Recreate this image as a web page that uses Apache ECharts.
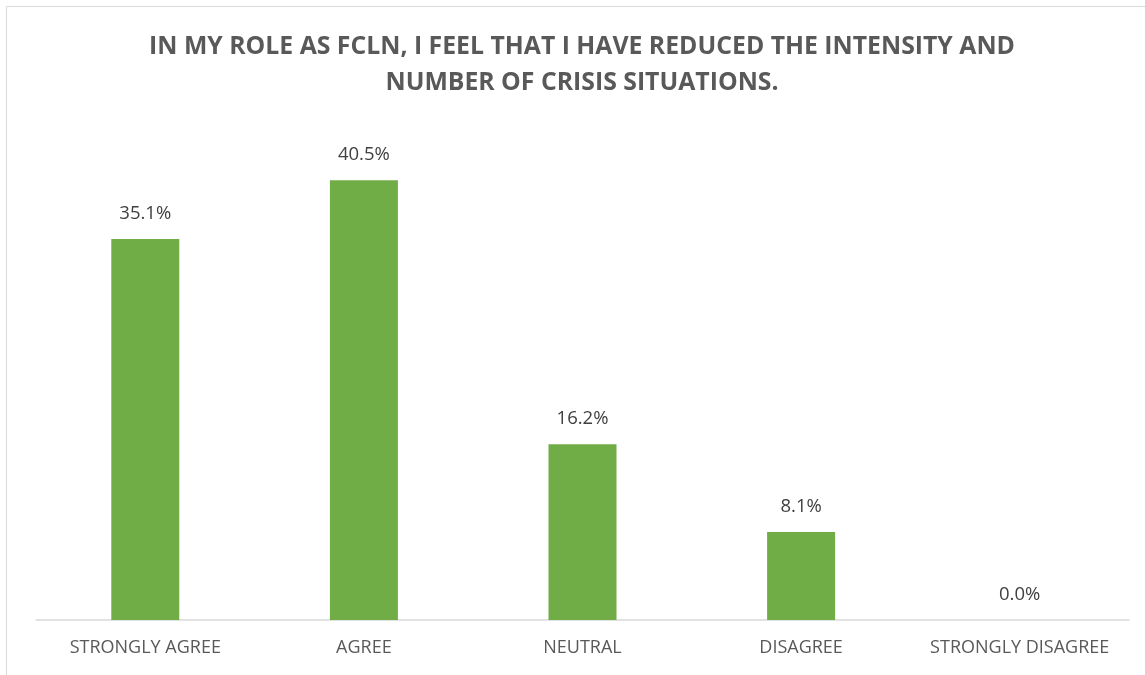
<!DOCTYPE html>
<html>
<head>
<meta charset="utf-8">
<script src="https://cdn.jsdelivr.net/npm/echarts@6/dist/echarts.min.js"></script>
<style>
  html, body { margin: 0; padding: 0; background: #fff; }
  #chart { width: 1145px; height: 675px; }
</style>
</head>
<body>
<div id="chart"></div>
<script>
// Survey responses: share of respondents per answer (%)
const categories = ['STRONGLY AGREE', 'AGREE', 'NEUTRAL', 'DISAGREE', 'STRONGLY DISAGREE'];
const shares = [35.1, 40.5, 16.2, 8.1, 0.0];
const titleText = 'IN MY ROLE AS FCLN, I FEEL THAT I HAVE REDUCED THE INTENSITY AND\nNUMBER OF CRISIS SITUATIONS.';

const chart = echarts.init(document.getElementById('chart'));
chart.setOption({
  animation: false,
  backgroundColor: '#ffffff',
  graphic: [
    { type: 'line', shape: { x1: 6.5, y1: 6.5, x2: 1145, y2: 6.5 }, style: { stroke: '#d9d9d9', lineWidth: 1 } },
    { type: 'line', shape: { x1: 6.5, y1: 6.5, x2: 6.5, y2: 675 }, style: { stroke: '#d9d9d9', lineWidth: 1 } },
    {
      // two-line chart title, centred over the plot
      type: 'text',
      x: 582,
      y: 29,
      style: {
        text: titleText,
        align: 'center',
        verticalAlign: 'top',
        fontFamily: 'Open Sans',
        fontWeight: 'bold',
        fontSize: 24.8,
        lineHeight: 36,
        fill: '#595959'
      }
    }
  ],
  grid: { left: 36, right: 16, top: 131.5, bottom: 55, containLabel: false },
  xAxis: {
    type: 'category',
    data: categories,
    axisLine: { lineStyle: { color: '#d9d9d9', width: 1.5 } },
    axisTick: { show: false },
    axisLabel: {
      fontFamily: 'Open Sans',
      fontSize: 18,
      color: '#595959',
      margin: 19,
      interval: 0
    }
  },
  yAxis: {
    type: 'value',
    min: 0,
    max: 45,
    show: false,
    splitLine: { show: false }
  },
  series: [{
    type: 'bar',
    data: shares,
    barWidth: 68,
    itemStyle: { color: '#70ad47' },
    label: {
      show: true,
      position: 'top',
      distance: 16,
      fontFamily: 'Open Sans',
      fontSize: 18.5,
      color: '#404040',
      formatter: p => p.value.toFixed(1) + '%'
    }
  }]
});
</script>
</body>
</html>
